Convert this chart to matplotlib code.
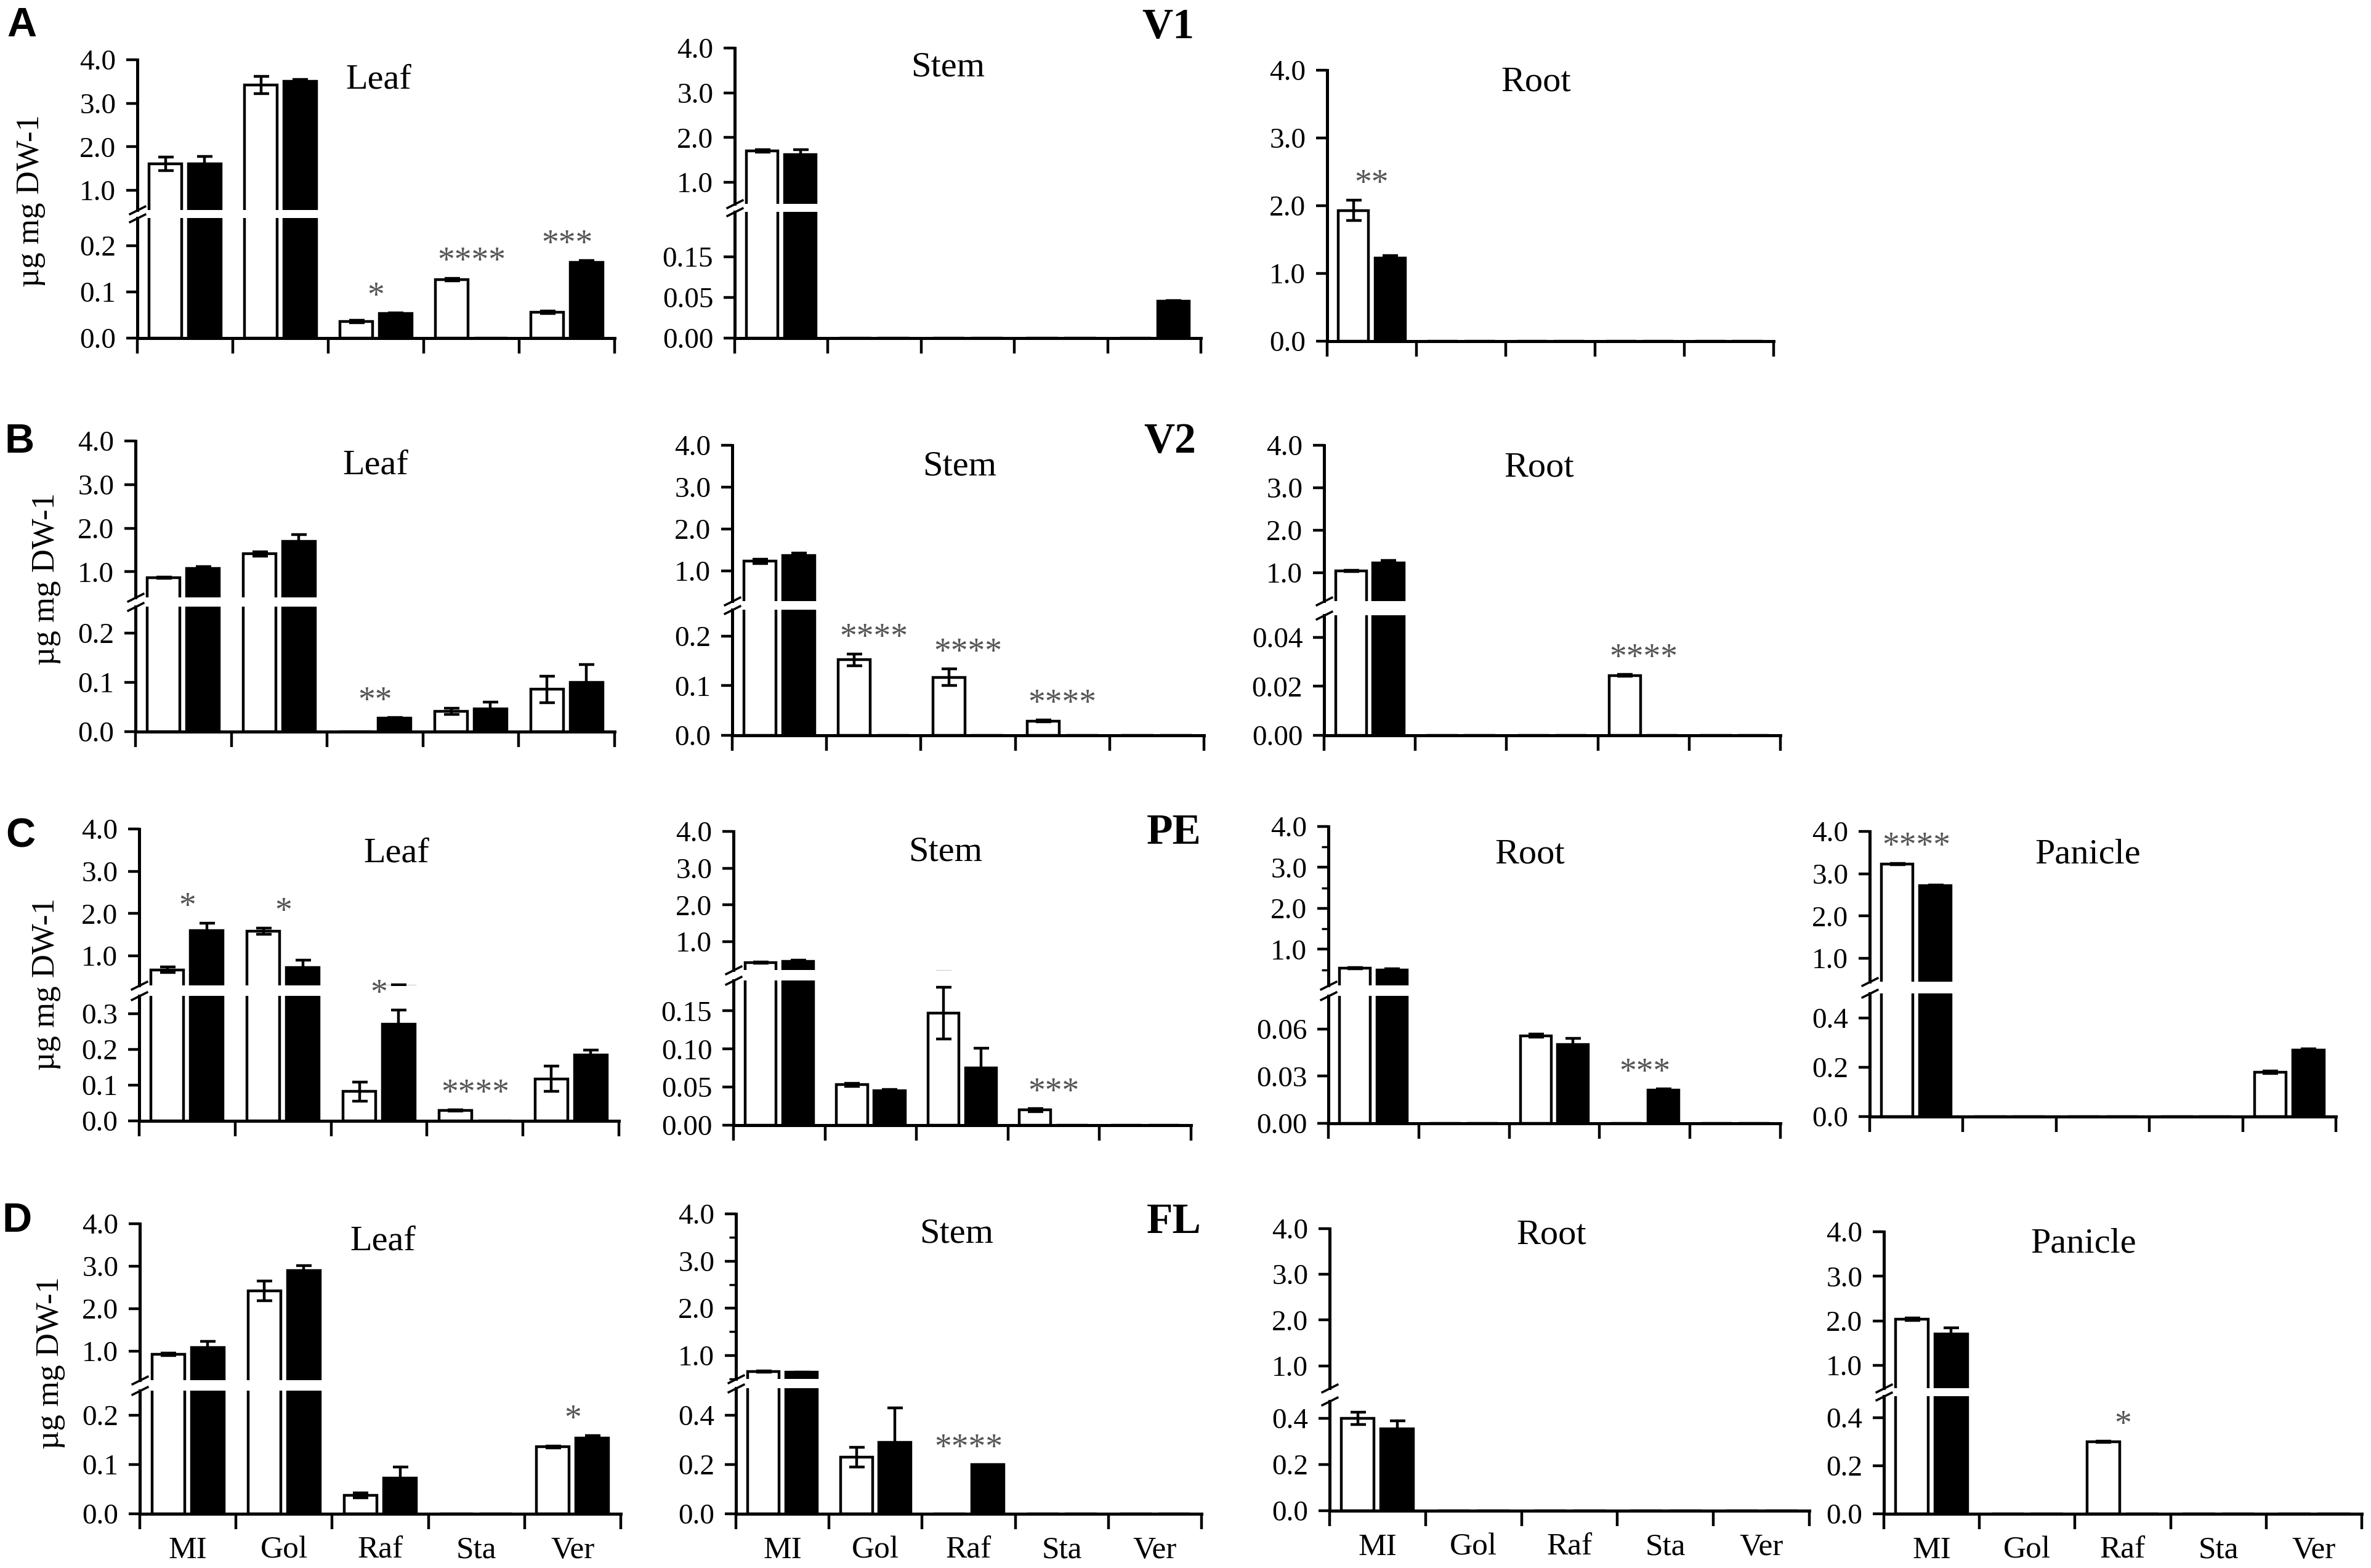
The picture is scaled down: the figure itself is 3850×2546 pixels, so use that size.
import numpy as np
import matplotlib
matplotlib.use('Agg')
import matplotlib.pyplot as plt

W, H = 3850, 2546

compounds = ['MI', 'Gol', 'Raf', 'Sta', 'Ver']

# ---- V1 ----
v1_leaf_white = [1.61, 3.42, 0.036, 0.127, 0.056]
v1_leaf_white_err = [0.15, 0.20, 0.003, 0.003, 0.003]
v1_leaf_black = [1.61, 3.50, 0.053, 0.0, 0.164]
v1_leaf_black_err = [0.17, 0.05, 0.002, 0.0, 0.004]
v1_leaf_stars = ['', '', '*', '****', '***']

v1_stem_white = [1.70, 0.0, 0.0, 0.0, 0.0]
v1_stem_white_err = [0.03, 0.0, 0.0, 0.0, 0.0]
v1_stem_black = [1.62, 0.0, 0.0, 0.0, 0.045]
v1_stem_black_err = [0.11, 0.0, 0.0, 0.0, 0.001]
v1_stem_stars = ['', '', '', '', '']

v1_root_white = [1.93, 0.0, 0.0, 0.0, 0.0]
v1_root_white_err = [0.15, 0.0, 0.0, 0.0, 0.0]
v1_root_black = [1.23, 0.0, 0.0, 0.0, 0.0]
v1_root_black_err = [0.03, 0.0, 0.0, 0.0, 0.0]
v1_root_stars = ['**', '', '', '', '']

# ---- V2 ----
v2_leaf_white = [0.86, 1.41, 0.0, 0.041, 0.086]
v2_leaf_white_err = [0.01, 0.05, 0.0, 0.006, 0.027]
v2_leaf_black = [1.07, 1.70, 0.027, 0.046, 0.100]
v2_leaf_black_err = [0.04, 0.15, 0.002, 0.014, 0.036]
v2_leaf_stars = ['', '', '**', '', '']

v2_stem_white = [1.23, 0.152, 0.117, 0.029, 0.0]
v2_stem_white_err = [0.05, 0.012, 0.017, 0.002, 0.0]
v2_stem_black = [1.37, 0.0, 0.0, 0.0, 0.0]
v2_stem_black_err = [0.05, 0.0, 0.0, 0.0, 0.0]
v2_stem_stars = ['', '****', '****', '****', '']

v2_root_white = [1.04, 0.0, 0.0, 0.0245, 0.0]
v2_root_white_err = [0.01, 0.0, 0.0, 0.0003, 0.0]
v2_root_black = [1.23, 0.0, 0.0, 0.0, 0.0]
v2_root_black_err = [0.06, 0.0, 0.0, 0.0, 0.0]
v2_root_stars = ['', '', '', '****', '']

# ---- PE ----
pe_leaf_white = [0.67, 1.58, 0.082, 0.029, 0.118]
pe_leaf_white_err = [0.07, 0.07, 0.027, 0.002, 0.036]
pe_leaf_black = [1.60, 0.72, 0.27, 0.0, 0.184]
pe_leaf_black_err = [0.17, 0.17, 0.04, 0.0, 0.014]
pe_leaf_stars = ['*', '*', '*', '****', '']

pe_stem_white = [0.43, 0.053, 0.147, 0.020, 0.0]
pe_stem_white_err = [0.02, 0.002, 0.034, 0.002, 0.0]
pe_stem_black = [0.47, 0.045, 0.075, 0.0, 0.0]
pe_stem_black_err = [0.02, 0.002, 0.026, 0.0, 0.0]
pe_stem_stars = ['', '', '', '***', '']

pe_root_white = [0.54, 0.0, 0.0557, 0.0, 0.0]
pe_root_white_err = [0.02, 0.0, 0.001, 0.0, 0.0]
pe_root_black = [0.50, 0.0, 0.050, 0.021, 0.0]
pe_root_black_err = [0.02, 0.0, 0.004, 0.001, 0.0]
pe_root_stars = ['', '', '', '***', '']

pe_panicle_white = [3.23, 0.0, 0.0, 0.0, 0.179]
pe_panicle_white_err = [0.02, 0.0, 0.0, 0.0, 0.005]
pe_panicle_black = [2.72, 0.0, 0.0, 0.0, 0.269]
pe_panicle_black_err = [0.02, 0.0, 0.0, 0.0, 0.005]
pe_panicle_stars = ['****', '', '', '', '']

# ---- FL ----
fl_leaf_white = [0.93, 2.42, 0.037, 0.0, 0.136]
fl_leaf_white_err = [0.03, 0.23, 0.005, 0.0, 0.002]
fl_leaf_black = [1.09, 2.90, 0.072, 0.0, 0.154]
fl_leaf_black_err = [0.15, 0.12, 0.023, 0.0, 0.005]
fl_leaf_stars = ['', '', '', '', '*']

fl_stem_white = [0.66, 0.23, 0.0, 0.0, 0.0]
fl_stem_white_err = [0.01, 0.04, 0.0, 0.0, 0.0]
fl_stem_black = [0.64, 0.29, 0.20, 0.0, 0.0]
fl_stem_black_err = [0.01, 0.14, 0.0, 0.0, 0.0]
fl_stem_stars = ['', '', '****', '', '']

fl_root_white = [0.40, 0.0, 0.0, 0.0, 0.0]
fl_root_white_err = [0.027, 0.0, 0.0, 0.0, 0.0]
fl_root_black = [0.355, 0.0, 0.0, 0.0, 0.0]
fl_root_black_err = [0.034, 0.0, 0.0, 0.0, 0.0]
fl_root_stars = ['', '', '', '', '']

fl_panicle_white = [2.04, 0.0, 0.30, 0.0, 0.0]
fl_panicle_white_err = [0.03, 0.0, 0.003, 0.0, 0.0]
fl_panicle_black = [1.70, 0.0, 0.0, 0.0, 0.0]
fl_panicle_black_err = [0.15, 0.0, 0.0, 0.0, 0.0]
fl_panicle_stars = ['', '', '*', '', '']

plt.rcParams['font.family'] = ['Liberation Serif', 'DejaVu Serif']

LW = 3.2
BW = 0.34
OFF = 0.205
TICK_FS = 34
STAR_COLOR = '#555555'

# pixel boxes: x0, x1, y(4.0), y(upper bottom), y(lower top), y(0)
panels = [
    dict(title='Leaf', box=(223, 998, 97, 341, 354, 549), tpos=(615, 130),
         upper=0.55, lower=0.26, ticks=[0, 0.1, 0.2],
         data=(v1_leaf_white, v1_leaf_white_err, v1_leaf_black, v1_leaf_black_err, v1_leaf_stars)),
    dict(title='Stem', box=(1193, 1950, 78, 331, 344, 549), tpos=(1539, 109),
         upper=0.52, lower=0.155, ticks=[0, 0.05, 0.10], labels=['0.00', '0.05', '0.15'],
         data=(v1_stem_white, v1_stem_white_err, v1_stem_black, v1_stem_black_err, v1_stem_stars)),
    dict(title='Root', box=(2155, 2880, 114, None, None, 554), tpos=(2494, 134),
         data=(v1_root_white, v1_root_white_err, v1_root_black, v1_root_black_err, v1_root_stars)),

    dict(title='Leaf', box=(220, 998, 716, 970, 985, 1188), tpos=(610, 756),
         upper=0.41, lower=0.254, ticks=[0, 0.1, 0.2],
         data=(v2_leaf_white, v2_leaf_white_err, v2_leaf_black, v2_leaf_black_err, v2_leaf_stars)),
    dict(title='Stem', box=(1189, 1955, 723, 976, 990, 1194), tpos=(1558, 758),
         upper=0.28, lower=0.253, ticks=[0, 0.1, 0.2],
         data=(v2_stem_white, v2_stem_white_err, v2_stem_black, v2_stem_black_err, v2_stem_stars)),
    dict(title='Root', box=(2150, 2891, 723, 976, 999, 1194), tpos=(2499, 760),
         upper=0.33, lower=0.049, ticks=[0, 0.02, 0.04], fmt='{:.2f}',
         data=(v2_root_white, v2_root_white_err, v2_root_black, v2_root_black_err, v2_root_stars)),

    dict(title='Leaf', box=(226, 1005, 1346, 1600, 1617, 1820), tpos=(644, 1386),
         upper=0.30, lower=0.35, ticks=[0, 0.1, 0.2, 0.3],
         data=(pe_leaf_white, pe_leaf_white_err, pe_leaf_black, pe_leaf_black_err, pe_leaf_stars)),
    dict(title='Stem', box=(1191, 1934, 1350, 1575, 1592, 1827), tpos=(1535, 1384),
         upper=0.23, lower=0.19, ticks=[0, 0.05, 0.10, 0.15], fmt='{:.2f}',
         data=(pe_stem_white, pe_stem_white_err, pe_stem_black, pe_stem_black_err, pe_stem_stars)),
    dict(title='Root', box=(2157, 2891, 1342, 1600, 1617, 1824), tpos=(2484, 1388),
         upper=0.12, lower=0.081, ticks=[0, 0.03, 0.06], fmt='{:.2f}', minor=True,
         data=(pe_root_white, pe_root_white_err, pe_root_black, pe_root_black_err, pe_root_stars)),
    dict(title='Panicle', box=(3036, 3793, 1350, 1594, 1613, 1813), tpos=(3390, 1388),
         upper=0.45, lower=0.5, ticks=[0, 0.2, 0.4],
         data=(pe_panicle_white, pe_panicle_white_err, pe_panicle_black, pe_panicle_black_err, pe_panicle_stars)),

    dict(title='Leaf', box=(227, 1008, 1987, 2241, 2258, 2458), tpos=(622, 2015),
         upper=0.32, lower=0.25, ticks=[0, 0.1, 0.2], xlabels=True,
         data=(fl_leaf_white, fl_leaf_white_err, fl_leaf_black, fl_leaf_black_err, fl_leaf_stars)),
    dict(title='Stem', box=(1195, 1951, 1971, 2239, 2254, 2458), tpos=(1553, 2004),
         upper=0.50, lower=0.51, ticks=[0, 0.2, 0.4], minor=True, xlabels=True,
         data=(fl_stem_white, fl_stem_white_err, fl_stem_black, fl_stem_black_err, fl_stem_stars)),
    dict(title='Root', box=(2159, 2938, 1995, 2254, 2275, 2453), tpos=(2519, 2005),
         upper=0.51, lower=0.475, ticks=[0, 0.2, 0.4], xlabels=True,
         data=(fl_root_white, fl_root_white_err, fl_root_black, fl_root_black_err, fl_root_stars)),
    dict(title='Panicle', box=(3059, 3835, 2000, 2254, 2267, 2458), tpos=(3383, 2019),
         upper=0.49, lower=0.49, ticks=[0, 0.2, 0.4], xlabels=True,
         data=(fl_panicle_white, fl_panicle_white_err, fl_panicle_black, fl_panicle_black_err, fl_panicle_stars)),
]

row_labels = [('A', 35, 42), ('B', 32, 718), ('C', 33, 1358), ('D', 28, 1983)]
stage_labels = [('V1', 1897, 45), ('V2', 1900, 718), ('PE', 1906, 1353), ('FL', 1906, 1985)]
ylabel_pos = [(50, 326), (75, 940), (75, 1598), (82, 2213)]


def rect(x0, x1, ytop, ybot):
    return [x0 / W, 1 - ybot / H, (x1 - x0) / W, (ybot - ytop) / H]


def draw_bars(ax, white, white_err, black, black_err):
    x = np.arange(len(compounds))
    ax.bar(x - OFF, white, BW, color='white', edgecolor='black', linewidth=LW, zorder=2)
    ax.bar(x + OFF, black, BW, color='black', edgecolor='black', linewidth=LW, zorder=2)
    for xs, vals, errs in ((x - OFF, white, white_err), (x + OFF, black, black_err)):
        for xi, v, e in zip(xs, vals, errs):
            if v > 0 and e > 0:
                ax.errorbar(xi, v, yerr=e, fmt='none', ecolor='black', elinewidth=LW,
                            capsize=9, capthick=LW, zorder=3)


def style_axis(ax):
    ax.set_xlim(-0.5, len(compounds) - 0.5)
    for side in ('top', 'right'):
        ax.spines[side].set_visible(False)
    ax.spines['left'].set_linewidth(3.6)
    ax.spines['bottom'].set_linewidth(3.6)
    ax.tick_params(axis='y', which='major', direction='out', length=13, width=3.2,
                   labelsize=TICK_FS, pad=12)
    ax.tick_params(axis='y', which='minor', direction='out', length=8, width=2.5)
    ax.patch.set_alpha(0)


def style_xaxis(ax, xlabels):
    n = len(compounds)
    ax.set_xticks(np.arange(n + 1) - 0.5)
    ax.set_xticklabels([])
    ax.tick_params(axis='x', which='major', direction='out', length=18, width=3.2)
    ax.set_xticks(np.arange(n), minor=True)
    if xlabels:
        ax.set_xticklabels(compounds, minor=True)
    ax.tick_params(axis='x', which='minor', length=0, labelsize=37, pad=26)


fig = plt.figure(figsize=(W / 100, H / 100), dpi=100)

brk = dict(marker=[(-1, -0.5), (1, 0.5)], markersize=20, linestyle='none',
           color='k', mec='k', mew=2.6, clip_on=False)

for p in panels:
    white, white_err, black, black_err, stars = p['data']
    x0, x1, ytop, yub, ylt, y0 = p['box']
    tops = [max(w + we, b + be) for w, we, b, be in zip(white, white_err, black, black_err)]

    if yub is None:
        ax = fig.add_axes(rect(x0, x1, ytop, y0))
        draw_bars(ax, white, white_err, black, black_err)
        style_axis(ax)
        ax.set_ylim(0, 4.0)
        ax.set_yticks([0, 1, 2, 3, 4])
        ax.set_yticklabels(['0.0', '1.0', '2.0', '3.0', '4.0'])
        style_xaxis(ax, p.get('xlabels', False))
        star_axes = [ax for _ in tops]
    else:
        up = fig.add_axes(rect(x0, x1, ytop, yub))
        lo = fig.add_axes(rect(x0, x1, ylt, y0))
        for ax in (up, lo):
            draw_bars(ax, white, white_err, black, black_err)
            style_axis(ax)
        up.spines['bottom'].set_visible(False)
        up.set_ylim(p['upper'], 4.0)
        up.set_yticks([1, 2, 3, 4])
        up.set_yticklabels(['1.0', '2.0', '3.0', '4.0'])
        if p.get('minor'):
            up.set_yticks([0.5, 1.5, 2.5, 3.5], minor=True)
        up.set_xticks([])
        lo.set_ylim(0, p['lower'])
        lo.set_yticks(p['ticks'])
        if 'labels' in p:
            lo.set_yticklabels(p['labels'])
        else:
            fmt = p.get('fmt', '{:.1f}')
            lo.set_yticklabels([fmt.format(t) for t in p['ticks']])
        style_xaxis(lo, p.get('xlabels', False))
        up.plot([0], [0], transform=up.transAxes, **brk)
        lo.plot([0], [1], transform=lo.transAxes, **brk)
        star_axes = [up if t > p['lower'] else lo for t in tops]

    for i, (s, t, sax) in enumerate(zip(stars, tops, star_axes)):
        if s:
            sax.annotate(s, xy=(i, t), xytext=(0, 8), textcoords='offset points',
                         ha='center', va='baseline', fontsize=40, color=STAR_COLOR,
                         annotation_clip=False)

    tx, ty = p['tpos']
    fig.text(tx / W, 1 - ty / H, p['title'], ha='center', va='center', fontsize=42)

for lab, x, y in row_labels:
    fig.text(x / W, 1 - y / H, lab, ha='center', va='center', fontsize=48,
             fontweight='bold', family=['Liberation Sans', 'DejaVu Sans'])

for lab, x, y in stage_labels:
    fig.text(x / W, 1 - y / H, lab, ha='center', va='center', fontsize=50, fontweight='bold')

for x, y in ylabel_pos:
    fig.text(x / W, 1 - y / H, 'µg mg DW-1', rotation=90, ha='center', va='center', fontsize=38)

fig.savefig('out.png', dpi=100, facecolor='white')
